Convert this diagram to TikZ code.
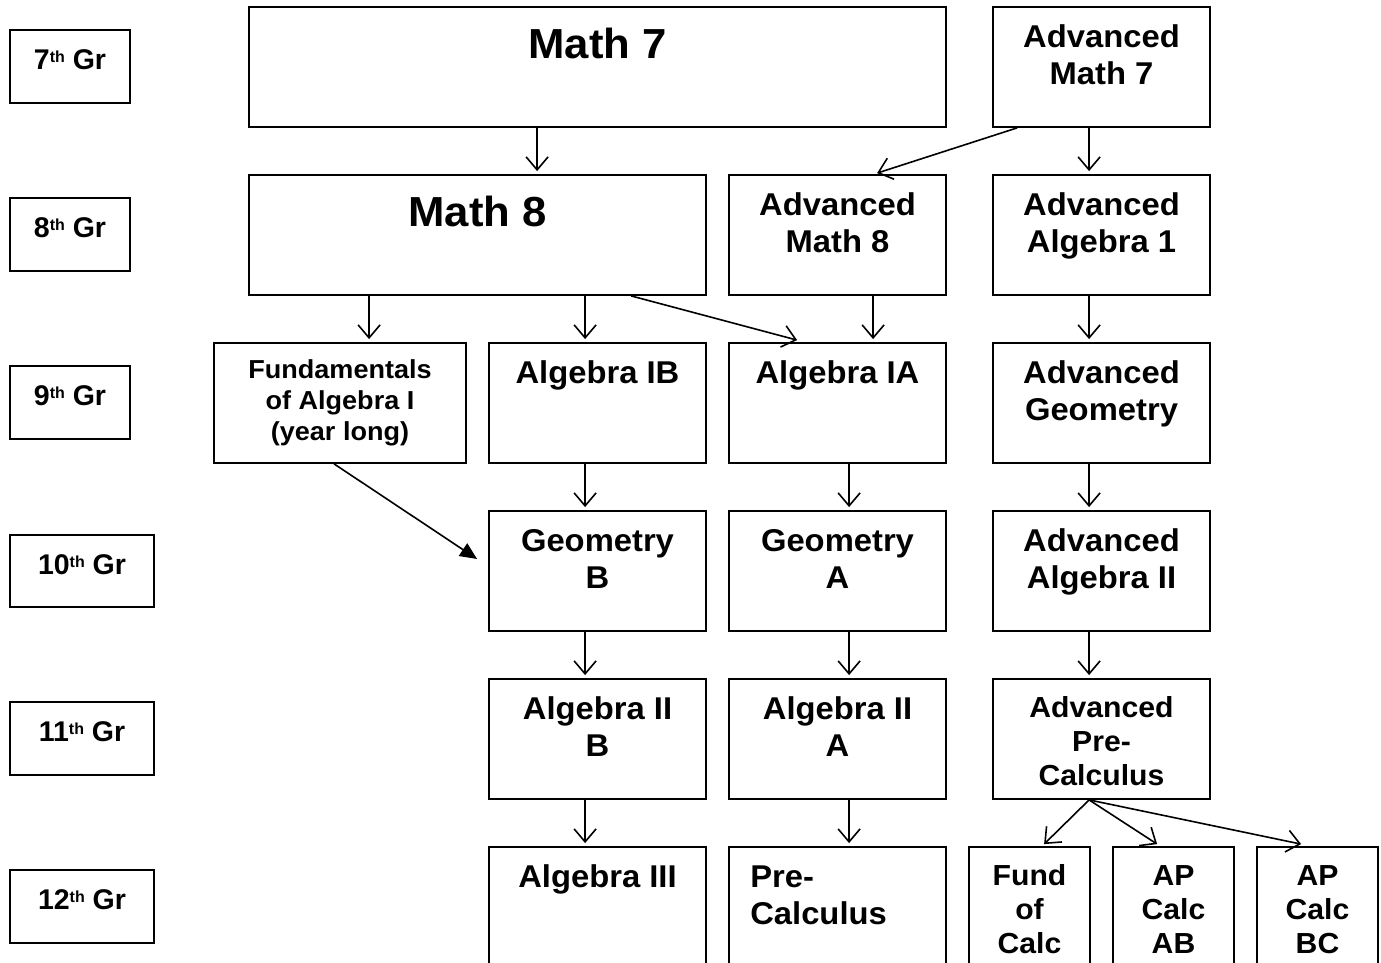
\documentclass[tikz,border=0pt]{standalone}
\usepackage{fontspec}
\setmainfont{Liberation Sans}
\newfontfamily\wide{Liberation Sans}[FakeStretch=1.04]
\usetikzlibrary{arrows.meta,calc}
\newcommand\cbox[6]{%
  \node[box, minimum width={(#4-#2)*1pt}, minimum height={(#5-#3)*1pt}, #6] (#1) at ({(#2+#4)/2},{(#3+#5)/2}) {};}
\newcommand\gsup[1]{{\fontsize{16}{16}\selectfont\raisebox{7pt}{#1}}}
\tikzset{
  box/.style={draw=black, line width=1.8pt, inner sep=0pt, fill=white},
  arr/.style={line width=1.6pt, -{Straight Barb[length=13pt,width=22pt,line width=1.6pt]}},
  arrf/.style={line width=1.6pt, -{Triangle[length=17pt,width=15pt]}},
  tx/.style={inner sep=0pt, align=center, anchor=north},
  fbig/.style={tx, font=\wide\bfseries\fontsize{42}{50}\selectfont, yshift=-17pt},
  fmid/.style={tx, font=\wide\bfseries\fontsize{31.5}{37}\selectfont, yshift=-15pt},
  fsm/.style={tx, font=\wide\bfseries\fontsize{29}{34}\selectfont, yshift=-15pt},
  ffund/.style={tx, font=\wide\bfseries\fontsize{26}{31}\selectfont, yshift=-14pt},
  fgr/.style={tx, font=\bfseries\fontsize{28.5}{34}\selectfont, yshift=-16pt},
}
\begin{document}
\begin{tikzpicture}[x=1pt,y=-1pt]
\clip (0,0) rectangle (1381,963);
\fill[white] (0,0) rectangle (1381,963);
% grade boxes
\cbox{g7}{10}{30}{130}{103}{}
\cbox{g8}{10}{198}{130}{271}{}
\cbox{g9}{10}{366}{130}{439}{}
\cbox{g10}{10}{535}{154}{607}{}
\cbox{g11}{10}{702}{154}{775}{}
\cbox{g12}{10}{870}{154}{943}{}
\node[fgr] (g7t) at (g7.north) {\strut 7\gsup{th} Gr};
\node[fgr] (g8t) at (g8.north) {\strut 8\gsup{th} Gr};
\node[fgr] (g9t) at (g9.north) {\strut 9\gsup{th} Gr};
\node[fgr] (g10t) at (g10.north) {\strut 10\gsup{th} Gr};
\node[fgr] (g11t) at (g11.north) {\strut 11\gsup{th} Gr};
\node[fgr] (g12t) at (g12.north) {\strut 12\gsup{th} Gr};
% row 7
\cbox{math7}{249}{7}{946}{127}{}
\cbox{advm7}{993}{7}{1210}{127}{}
\node[fbig] (math7t) at (math7.north) {\strut Math 7};
\node[fmid] (advm7t) at (advm7.north) {\strut Advanced\\Math 7};
% row 8
\cbox{math8}{249}{175}{706}{295}{}
\cbox{advm8}{729}{175}{946}{295}{}
\cbox{advalg1}{993}{175}{1210}{295}{}
\node[fbig] (math8t) at (math8.north) {\strut Math 8};
\node[fmid] (advm8t) at (advm8.north) {\strut Advanced\\Math 8};
\node[fmid] (advalg1t) at (advalg1.north) {\strut Advanced\\Algebra 1};
% row 9
\cbox{fund}{214}{343}{466}{463}{}
\cbox{algIB}{489}{343}{706}{463}{}
\cbox{algIA}{729}{343}{946}{463}{}
\cbox{advgeo}{993}{343}{1210}{463}{}
\node[ffund] (fundt) at (fund.north) {\strut Fundamentals\\of Algebra I\\(year long)};
\node[fmid] (algIBt) at (algIB.north) {\strut Algebra IB};
\node[fmid] (algIAt) at (algIA.north) {\strut Algebra IA};
\node[fmid] (advgeot) at (advgeo.north) {\strut Advanced\\Geometry};
% row 10
\cbox{geoB}{489}{511}{706}{631}{}
\cbox{geoA}{729}{511}{946}{631}{}
\cbox{advalg2}{993}{511}{1210}{631}{}
\node[fmid] (geoBt) at (geoB.north) {\strut Geometry\\B};
\node[fmid] (geoAt) at (geoA.north) {\strut Geometry\\A};
\node[fmid] (advalg2t) at (advalg2.north) {\strut Advanced\\Algebra II};
% row 11
\cbox{alg2B}{489}{679}{706}{799}{}
\cbox{alg2A}{729}{679}{946}{799}{}
\cbox{advpre}{993}{679}{1210}{799}{}
\node[fmid] (alg2Bt) at (alg2B.north) {\strut Algebra II\\B};
\node[fmid] (alg2At) at (alg2A.north) {\strut Algebra II\\A};
\node[fsm] (advpret) at (advpre.north) {\strut Advanced\\Pre-\\Calculus};
% row 12
\cbox{alg3}{489}{847}{706}{980}{}
\cbox{precalc}{729}{847}{946}{980}{}
\cbox{fcalc}{969}{847}{1090}{980}{}
\cbox{apab}{1113}{847}{1234}{980}{}
\cbox{apbc}{1257}{847}{1378}{980}{}
\node[fmid] (alg3t) at (alg3.north) {\strut Algebra III};
\node[fmid, anchor=north west, align=left, xshift=22pt] (precalct) at (precalc.north west) {\strut Pre-\\Calculus};
\node[fsm] (fcalct) at (fcalc.north) {\strut Fund\\of\\Calc};
\node[fsm] (apabt) at (apab.north) {\strut AP\\Calc\\AB};
\node[fsm] (apbct) at (apbc.north) {\strut AP\\Calc\\BC};
% arrows
\draw[arr] ([xshift=289pt]math7.south west) -- ([xshift=289pt,yshift=3pt]math8.north west);
\draw[arr] ([xshift=25pt]advm7.south west) -- ([xshift=149pt,yshift=1pt]advm8.north west);
\draw[arr] ([xshift=97pt]advm7.south west) -- ([xshift=97pt,yshift=3pt]advalg1.north west);
\draw[arr] ([xshift=121pt]math8.south west) -- ([xshift=156pt,yshift=3pt]fund.north west);
\draw[arr] ([xshift=337pt]math8.south west) -- ([xshift=97pt,yshift=3pt]algIB.north west);
\draw[arr] ([xshift=383pt]math8.south west) -- ([xshift=69pt,yshift=2pt]algIA.north west);
\draw[arr] ([xshift=145pt]advm8.south west) -- ([xshift=145pt,yshift=3pt]algIA.north west);
\draw[arr] ([xshift=97pt]advalg1.south west) -- ([xshift=97pt,yshift=3pt]advgeo.north west);
\draw[arrf] ([xshift=121pt]fund.south west) -- ([xshift=-11pt,yshift=12pt]geoB.west);
\draw[arr] ([xshift=97pt]algIB.south west) -- ([xshift=97pt,yshift=3pt]geoB.north west);
\draw[arr] ([xshift=121pt]algIA.south west) -- ([xshift=121pt,yshift=3pt]geoA.north west);
\draw[arr] ([xshift=97pt]advgeo.south west) -- ([xshift=97pt,yshift=3pt]advalg2.north west);
\draw[arr] ([xshift=97pt]geoB.south west) -- ([xshift=97pt,yshift=3pt]alg2B.north west);
\draw[arr] ([xshift=121pt]geoA.south west) -- ([xshift=121pt,yshift=3pt]alg2A.north west);
\draw[arr] ([xshift=97pt]advalg2.south west) -- ([xshift=97pt,yshift=3pt]advpre.north west);
\draw[arr] ([xshift=97pt]alg2B.south west) -- ([xshift=97pt,yshift=3pt]alg3.north west);
\draw[arr] ([xshift=121pt]alg2A.south west) -- ([xshift=121pt,yshift=3pt]precalc.north west);
\draw[arr] ([xshift=97pt]advpre.south west) -- ([xshift=76pt,yshift=2pt]fcalc.north west);
\draw[arr] ([xshift=97pt]advpre.south west) -- ([xshift=45pt,yshift=2pt]apab.north west);
\draw[arr] ([xshift=97pt]advpre.south west) -- ([xshift=45pt,yshift=2pt]apbc.north west);
\end{tikzpicture}
\end{document}
